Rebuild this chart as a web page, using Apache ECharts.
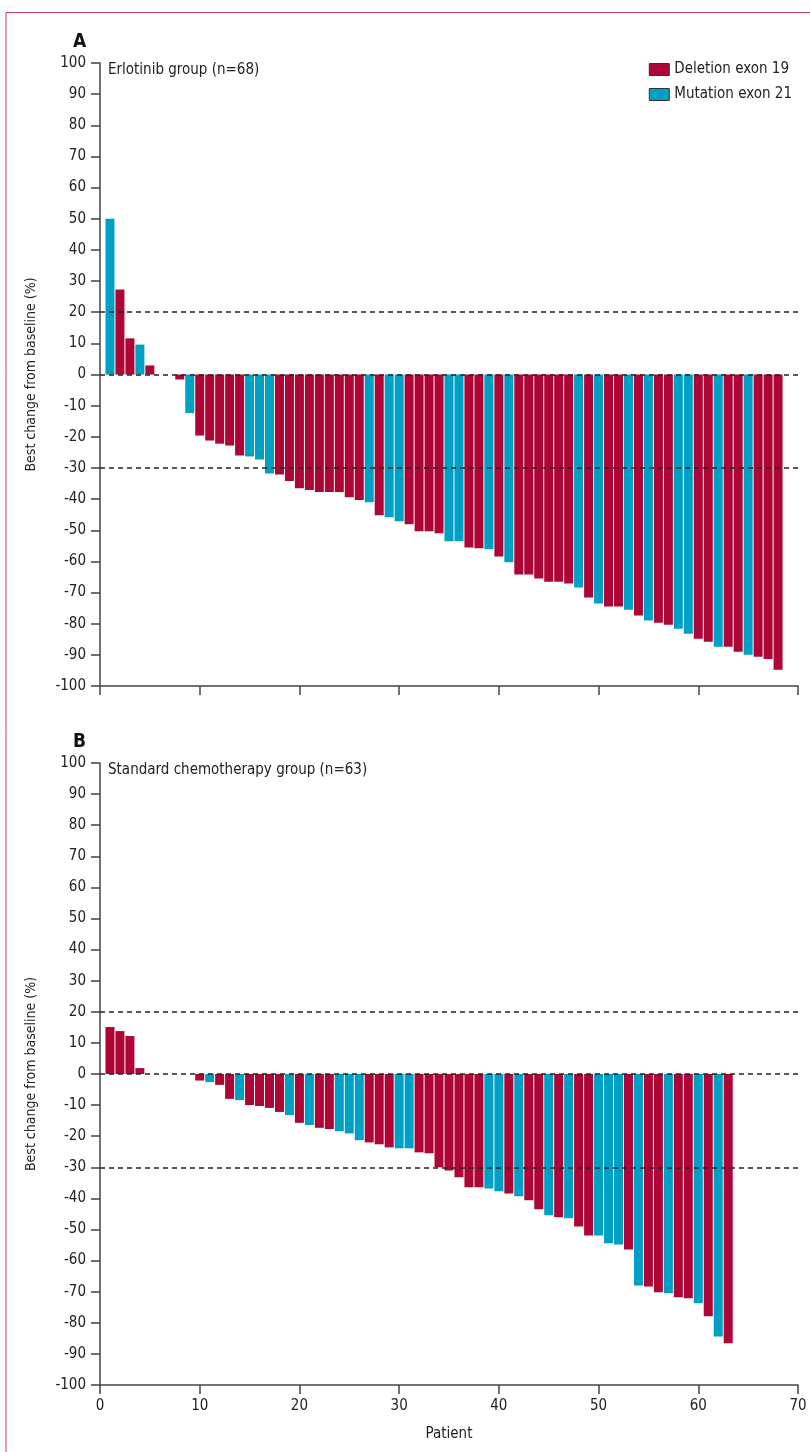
<!DOCTYPE html>
<html>
<head>
<meta charset="utf-8">
<script src="https://cdn.jsdelivr.net/npm/echarts@6/dist/echarts.min.js"></script>
<style>
  html, body { margin: 0; background: #fff; }
  #chart { width: 810px; height: 1452px; }
</style>
</head>
<body>
<div id="chart"></div>
<script>
// best change from baseline (%), one value per patient, in plotted order
const changeA = [
  50, 27.3, 11.6, 9.6, 2.9, 0, 0, -1.6, -12.4, -19.6,
  -21.2, -22.2, -22.8, -26.0, -26.3, -27.3, -31.8, -32.1, -34.2, -36.5,
  -37.1, -37.7, -37.7, -37.7, -39.4, -40.3, -41.0, -45.2, -45.8, -47.1,
  -48.1, -50.3, -50.3, -51.0, -53.5, -53.5, -55.5, -55.8, -56.1, -58.4,
  -60.3, -64.2, -64.2, -65.5, -66.5, -66.5, -67.1, -68.4, -71.6, -73.5,
  -74.5, -74.5, -75.5, -77.4, -79.0, -79.7, -80.3, -81.6, -83.2, -84.8,
  -85.8, -87.4, -87.4, -89.0, -90.0, -90.6, -91.3, -94.8
]
// D = deletion exon 19, M = mutation exon 21, '' = no change
const exonA = [
  'M', 'D', 'D', 'M', 'D', '', '', 'D', 'M', 'D',
  'D', 'D', 'D', 'D', 'M', 'M', 'M', 'D', 'D', 'D',
  'D', 'D', 'D', 'D', 'D', 'D', 'M', 'D', 'M', 'M',
  'D', 'D', 'D', 'D', 'M', 'M', 'D', 'D', 'M', 'D',
  'M', 'D', 'D', 'D', 'D', 'D', 'D', 'M', 'D', 'M',
  'D', 'D', 'M', 'D', 'M', 'D', 'D', 'M', 'M', 'D',
  'D', 'M', 'D', 'D', 'M', 'D', 'D', 'D'
]
const changeB = [
  15.1, 13.8, 12.2, 1.9, 0, 0, 0, 0, 0, -2.1,
  -2.6, -3.5, -8.0, -8.4, -10.0, -10.3, -10.9, -12.2, -13.2, -15.7,
  -16.4, -17.3, -17.7, -18.4, -19.1, -21.3, -22.0, -22.6, -23.6, -23.9,
  -23.9, -25.2, -25.5, -30.0, -31.0, -33.2, -36.4, -36.4, -36.8, -37.7,
  -38.4, -39.3, -40.6, -43.5, -45.4, -46.1, -46.4, -49.0, -51.9, -51.9,
  -54.4, -54.8, -56.4, -68.0, -68.3, -70.2, -70.5, -71.8, -72.1, -73.7,
  -77.9, -84.4, -86.6
]
const exonB = [
  'D', 'D', 'D', 'D', '', '', '', '', '', 'D',
  'M', 'D', 'D', 'M', 'D', 'D', 'D', 'D', 'M', 'D',
  'M', 'D', 'D', 'M', 'M', 'M', 'D', 'D', 'D', 'M',
  'M', 'D', 'D', 'D', 'D', 'D', 'D', 'D', 'M', 'M',
  'D', 'M', 'D', 'D', 'M', 'D', 'M', 'D', 'D', 'M',
  'M', 'M', 'D', 'M', 'D', 'D', 'M', 'D', 'D', 'M',
  'D', 'M', 'D'
]
const refLines = [20, 0, -30]
const groupNames = ['Deletion exon 19', 'Mutation exon 21']

const RED = '#ae0537'
const BLUE = '#00a0c5'
const FONT = '"Liberation Sans Narrow", "DejaVu Sans Condensed", sans-serif'

const chart = echarts.init(document.getElementById('chart'))

const pick = (values, exons, code) =>
  values.map((v, i) => [i + 1, v, exons[i]]).filter(d => d[2] === code).map(d => [d[0], d[1]])

const grids = [
  { left: 100, right: 12, top: 63, height: 623 },
  { left: 100, right: 12, top: 763, height: 622 },
]

const axisLine = { lineStyle: { color: '#444', width: 1.5 } }
const tick = { show: true, length: 9, lineStyle: { color: '#444', width: 1.5 } }

const xAxes = [0, 1].map(i => ({
  type: 'value',
  gridIndex: i,
  min: 0,
  max: 70,
  interval: 10,
  axisLine: { show: true, onZero: false, ...axisLine },
  axisTick: tick,
  axisLabel: { show: i === 1, fontFamily: FONT, fontSize: 15, color: '#222', margin: 14 },
  splitLine: { show: false },
  name: i === 1 ? 'Patient' : '',
  nameLocation: 'middle',
  nameGap: 42,
  nameTextStyle: { fontFamily: FONT, fontSize: 15, color: '#222' },
}))

const yAxes = [0, 1].map(i => ({
  type: 'value',
  gridIndex: i,
  min: -100,
  max: 100,
  interval: 10,
  axisLine: { show: true, onZero: false, ...axisLine },
  axisTick: tick,
  axisLabel: { fontFamily: FONT, fontSize: 15, color: '#222', margin: 14 },
  splitLine: { show: false },
  name: 'Best change from baseline (%)',
  nameLocation: 'middle',
  nameGap: 62,
  nameTextStyle: { fontFamily: FONT, fontSize: 14, color: '#222' },
}))

const refMark = {
  silent: true,
  symbol: ['none', 'none'],
  label: { show: false },
  lineStyle: { color: '#222', type: [5, 4], width: 1.5 },
  data: refLines.map(v => ({ yAxis: v })),
}

const series = []
const panels = [[changeA, exonA], [changeB, exonB]]
panels.forEach(([vals, exons], i) => {
  series.push({
    name: groupNames[0],
    type: 'bar',
    xAxisIndex: i,
    yAxisIndex: i,
    barWidth: 9,
    barGap: '-100%',
    itemStyle: { color: RED },
    data: pick(vals, exons, 'D'),
    markLine: refMark,
  })
  series.push({
    name: groupNames[1],
    type: 'bar',
    xAxisIndex: i,
    yAxisIndex: i,
    barWidth: 9,
    barGap: '-100%',
    itemStyle: { color: BLUE },
    data: pick(vals, exons, 'M'),
  })
})

chart.setOption({
  animation: false,
  textStyle: { fontFamily: FONT },
  grid: grids,
  xAxis: xAxes,
  yAxis: yAxes,
  legend: {
    data: groupNames.map(n => ({ name: n, itemStyle: { borderColor: '#333', borderWidth: 1 } })),
    orient: 'vertical',
    right: 18,
    top: 62,
    padding: 0,
    itemWidth: 20,
    itemHeight: 12,
    itemGap: 10,
    icon: 'rect',
    selectedMode: false,
    textStyle: { fontFamily: FONT, fontSize: 15, color: '#222' },
  },
  graphic: [
    {
      type: 'polyline',
      shape: { points: [[6, 1452], [6, 12.5], [810, 12.5]] },
      style: { stroke: '#c93a62', lineWidth: 1, fill: null },
    },
    { type: 'text', left: 73, top: 33, style: { text: 'A', font: 'bold 19px ' + FONT, fill: '#111' } },
    { type: 'text', left: 73, top: 733, style: { text: 'B', font: 'bold 19px ' + FONT, fill: '#111' } },
    { type: 'text', left: 108, top: 63, style: { text: 'Erlotinib group (n=68)', font: '15px ' + FONT, fill: '#222' } },
    { type: 'text', left: 108, top: 763, style: { text: 'Standard chemotherapy group (n=63)', font: '15px ' + FONT, fill: '#222' } },
  ],
  series,
})
</script>
</body>
</html>
